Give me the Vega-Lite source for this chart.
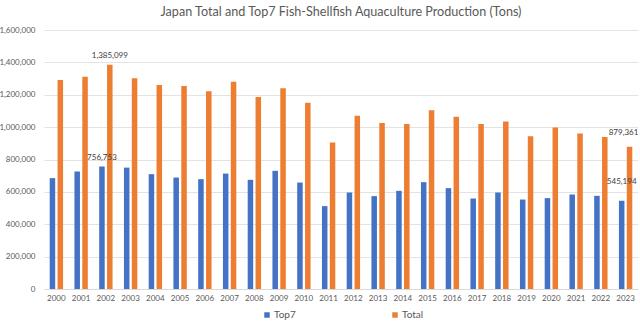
{
  "$schema": "https://vega.github.io/schema/vega-lite/v6.json",
  "autosize": {"type": "none"},
  "width": 594,
  "height": 259,
  "padding": {"left": 44, "top": 30, "right": 2, "bottom": 40},
  "background": "white",
  "title": {
    "text": "Japan Total and Top7 Fish-Shellfish Aquaculture Production (Tons)",
    "font": "Lato",
    "fontSize": 12.6,
    "fontWeight": "normal",
    "color": "#595959",
    "anchor": "middle",
    "frame": "group",
    "offset": 7
  },
  "config": {
    "view": {"stroke": null},
    "font": "Lato"
  },
  "data": {
    "values": [
      {"year": "2000", "series": "Top7", "value": 685000},
      {"year": "2000", "series": "Total", "value": 1291000},
      {"year": "2001", "series": "Top7", "value": 725500},
      {"year": "2001", "series": "Total", "value": 1311500},
      {"year": "2002", "series": "Top7", "value": 756753, "label": "756,753"},
      {"year": "2002", "series": "Total", "value": 1385099, "label": "1,385,099"},
      {"year": "2003", "series": "Top7", "value": 750000},
      {"year": "2003", "series": "Total", "value": 1301700},
      {"year": "2004", "series": "Top7", "value": 709400},
      {"year": "2004", "series": "Total", "value": 1260000},
      {"year": "2005", "series": "Top7", "value": 688500},
      {"year": "2005", "series": "Total", "value": 1254000},
      {"year": "2006", "series": "Top7", "value": 678600},
      {"year": "2006", "series": "Total", "value": 1221500},
      {"year": "2007", "series": "Top7", "value": 713000},
      {"year": "2007", "series": "Total", "value": 1280700},
      {"year": "2008", "series": "Top7", "value": 674300},
      {"year": "2008", "series": "Total", "value": 1186300},
      {"year": "2009", "series": "Top7", "value": 729800},
      {"year": "2009", "series": "Total", "value": 1240000},
      {"year": "2010", "series": "Top7", "value": 657600},
      {"year": "2010", "series": "Total", "value": 1151000},
      {"year": "2011", "series": "Top7", "value": 512000},
      {"year": "2011", "series": "Total", "value": 904400},
      {"year": "2012", "series": "Top7", "value": 596000},
      {"year": "2012", "series": "Total", "value": 1071000},
      {"year": "2013", "series": "Top7", "value": 573700},
      {"year": "2013", "series": "Total", "value": 1026000},
      {"year": "2014", "series": "Top7", "value": 606400},
      {"year": "2014", "series": "Total", "value": 1019700},
      {"year": "2015", "series": "Top7", "value": 660100},
      {"year": "2015", "series": "Total", "value": 1104300},
      {"year": "2016", "series": "Top7", "value": 623100},
      {"year": "2016", "series": "Total", "value": 1064800},
      {"year": "2017", "series": "Top7", "value": 559000},
      {"year": "2017", "series": "Total", "value": 1019700},
      {"year": "2018", "series": "Top7", "value": 596000},
      {"year": "2018", "series": "Total", "value": 1034000},
      {"year": "2019", "series": "Top7", "value": 552700},
      {"year": "2019", "series": "Total", "value": 943900},
      {"year": "2020", "series": "Top7", "value": 561400},
      {"year": "2020", "series": "Total", "value": 997000},
      {"year": "2021", "series": "Top7", "value": 583600},
      {"year": "2021", "series": "Total", "value": 960000},
      {"year": "2022", "series": "Top7", "value": 575600},
      {"year": "2022", "series": "Total", "value": 939600},
      {"year": "2023", "series": "Top7", "value": 545194, "label": "545,194"},
      {"year": "2023", "series": "Total", "value": 879361, "label": "879,361"}
    ]
  },
  "encoding": {
    "x": {
      "field": "year",
      "type": "nominal",
      "scale": {"paddingInner": 0.46, "paddingOuter": 0.23},
      "axis": {
        "title": null,
        "labelAngle": 0,
        "labelFontSize": 8,
        "labelColor": "#595959",
        "labelPadding": 5,
        "ticks": false,
        "domainColor": "#D9D9D9",
        "grid": false
      }
    },
    "xOffset": {
      "field": "series",
      "type": "nominal",
      "scale": {"paddingInner": 0.3, "paddingOuter": 0}
    },
    "y": {
      "field": "value",
      "type": "quantitative",
      "scale": {"domain": [0, 1600000], "nice": false},
      "axis": {
        "title": null,
        "values": [0, 200000, 400000, 600000, 800000, 1000000, 1200000, 1400000, 1600000],
        "format": ",.0f",
        "labelFontSize": 8,
        "labelColor": "#595959",
        "labelPadding": 9,
        "ticks": false,
        "domain": false,
        "gridColor": "#E3E3E3",
        "gridWidth": 1
      }
    }
  },
  "layer": [
    {
      "mark": {"type": "bar"},
      "encoding": {
        "color": {
          "field": "series",
          "type": "nominal",
          "scale": {"domain": ["Top7", "Total"], "range": ["#4472C4", "#ED7D31"]},
          "legend": {
            "title": null,
            "orient": "none",
            "direction": "horizontal",
            "legendX": 218,
            "legendY": 280,
            "symbolType": "square",
            "symbolSize": 30,
            "symbolStrokeWidth": 0,
            "labelFontSize": 10,
            "labelColor": "#595959",
            "labelOffset": 2,
            "columnPadding": 94
          }
        }
      }
    },
    {
      "transform": [{"filter": "datum.year == '2002'"}],
      "mark": {"type": "text", "dy": -9, "fontSize": 8, "color": "#404040"},
      "encoding": {"text": {"field": "label"}}
    },
    {
      "transform": [{"filter": "datum.year == '2023' && datum.series == 'Total'"}],
      "mark": {"type": "text", "dy": -14, "dx": -6, "fontSize": 8, "color": "#404040"},
      "encoding": {"text": {"field": "label"}}
    },
    {
      "transform": [{"filter": "datum.year == '2023' && datum.series == 'Top7'"}],
      "mark": {"type": "text", "dy": -19, "dx": 0, "fontSize": 8, "color": "#404040"},
      "encoding": {"text": {"field": "label"}}
    }
  ]
}
